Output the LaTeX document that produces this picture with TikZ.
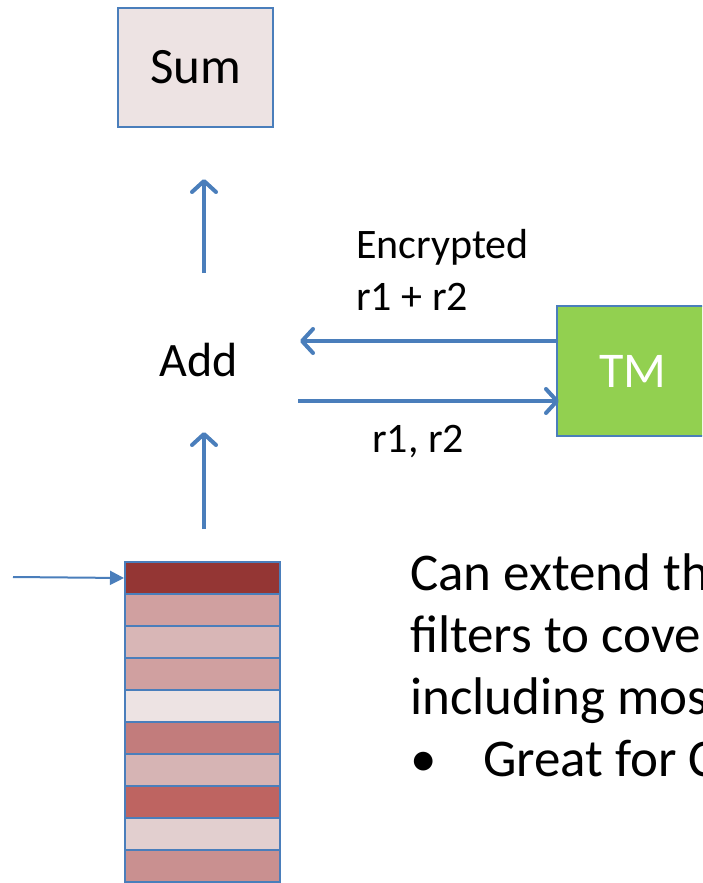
\documentclass[tikz,border=0pt]{standalone}
\usepackage{fontspec}
\setmainfont{Carlito}
\usepackage{tikz}
\usetikzlibrary{arrows.meta,positioning,calc}
\definecolor{link}{HTML}{4A7EBB}
\definecolor{paleRose}{HTML}{EDE3E3}
\definecolor{tmGreen}{HTML}{92D050}
\definecolor{deepRed}{HTML}{943634}

\begin{document}
\begin{tikzpicture}[x=1pt,y=-1pt,
  box/.style={draw=link,line width=2pt,inner sep=0pt},
  cell/.style={draw=link,line width=2pt,minimum width=155pt,minimum height=32pt,inner sep=0pt},
  lbl/.style={inner sep=0pt,font=\fontsize{42}{52}\selectfont,align=left},
  flow/.style={link,line width=4pt,-{Straight Barb[length=11pt,width=24pt,round]}},
  feed/.style={link,line width=2pt,-{Triangle[length=14pt,width=14pt]}}]

  \useasboundingbox (0,0) rectangle (702,883);
  \clip (0,0) rectangle (702,883);

  % Sum box
  \node[box,fill=paleRose,minimum width=155pt,minimum height=119pt,
    font=\fontsize{51}{60}\selectfont] (sum) at (195.5,67.5) {\raisebox{-3pt}{Sum}};

  % Add step
  \node[inner sep=0pt,font=\fontsize{48}{56}\selectfont] (add) at (199,360) {Add};

  % TM box
  \node[box,fill=tmGreen,minimum width=152pt,minimum height=130pt,text=white,
    font=\fontsize{50}{56}\selectfont] (tm) at (633,371) {TM};

  % Stack of cells
  \foreach \i/\c in {1/943634,2/D0A0A0,3/D8B6B6,4/D0A0A0,5/EDE3E3,
                     6/C27C7C,7/D6B4B4,8/BE6461,9/E2CFCF,10/C99090} {
    \definecolor{cellfill}{HTML}{\c}
    \node[cell,fill=cellfill] (c\i) at (202.5,{546+32*\i}) {};
  }
  \coordinate (in) at (13,577);
  \draw[feed] (in) -- (c1.west);

  % Flows
  \draw[flow] ([xshift=1.5pt,yshift=32pt]c1.north) -- ([xshift=5pt,yshift=-72pt]add.center);
  \draw[flow] ([xshift=5pt,yshift=87pt]add.center) -- ([xshift=8.5pt,yshift=-51pt]sum.south);
  \draw[flow] ([yshift=30pt]tm.west) -- ([xshift=101pt,yshift=19pt]add.center);
  \draw[flow] ([xshift=99pt,yshift=-41pt]add.center) -- ([xshift=3pt,yshift=-30pt]tm.west);

  % Labels
  \node[lbl,anchor=base west] (enc) at (356,310) {Encrypted\\r1 + r2};
  \node[lbl,anchor=base west] (rr) at (372,452) {r1, r2};

  % Note
  \node[inner sep=0pt,anchor=base west,align=left,
    font=\fontsize{53}{62}\selectfont] (note) at (410,776)
    {Can extend the\\filters to cover\\including most\\\makebox[73pt][l]{\textbullet}Great for C};
\end{tikzpicture}
\end{document}
